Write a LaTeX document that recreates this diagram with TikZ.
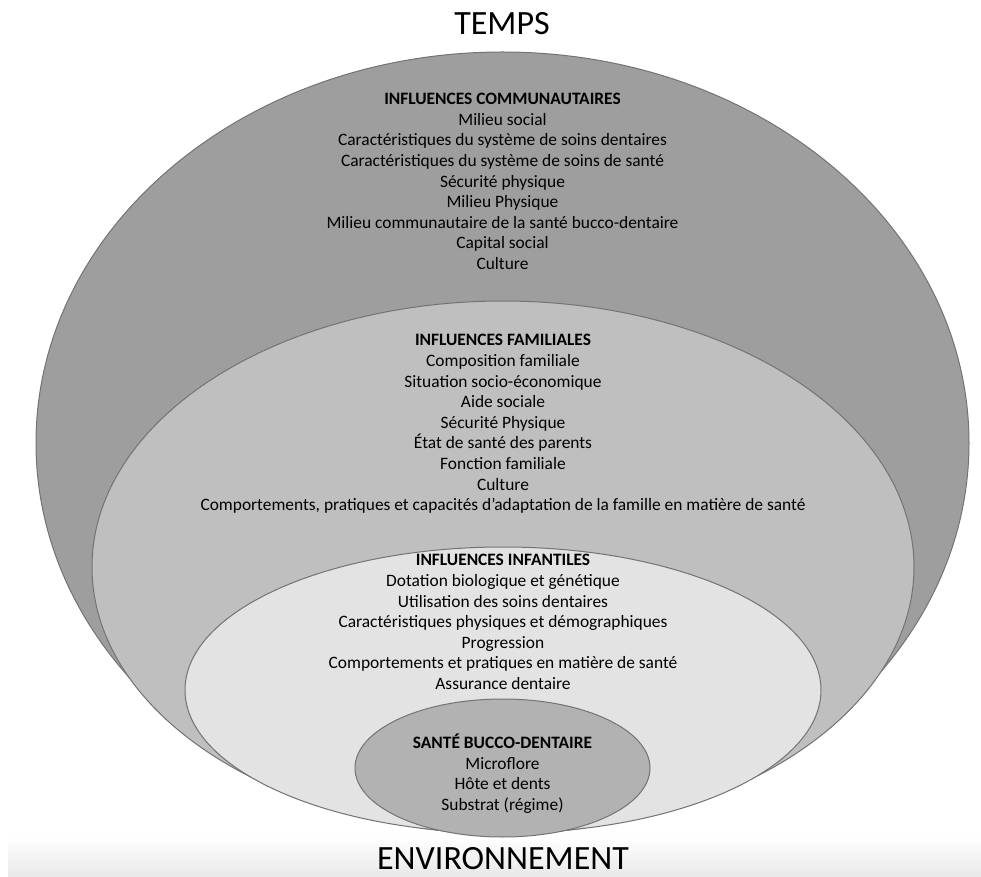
\documentclass[tikz,border=0pt]{standalone}
\usepackage{fontspec}
\setmainfont{Carlito}
\usetikzlibrary{shapes,positioning}

\begin{document}
\begin{tikzpicture}[x=0.5pt, y=-0.5pt,
    couche/.style={ellipse, draw=black!55, line width=0.5pt, inner sep=0pt},
    liste/.style={align=center, font=\fontsize{8.7}{10.3}\selectfont, inner sep=0pt},
    titre/.style={font=\fontsize{17}{20}\selectfont, inner sep=0pt}]
  \useasboundingbox (0,0) rectangle (981,877);
  \shade[top color=white, bottom color=black!9] (8,837) rectangle (981,877);

  % les couches, de l'exterieur vers l'interieur
  \node[couche, fill=black!38, minimum width=466.5pt, minimum height=391pt] (comm) at (502.5,443) {};
  \node[couche, fill=black!25, minimum width=411pt, minimum height=266pt] (fam) at (503,567) {};
  \node[couche, fill=black!11, minimum width=318pt, minimum height=143pt] (inf) at (503,690) {};
  \node[couche, fill=black!30, minimum width=147.5pt, minimum height=69pt] (sante) at (502.5,768) {};

  \node[titre] (temps) at (502,24) {TEMPS};
  \node[titre] (env) at (503,859) {ENVIRONNEMENT};

  \node[liste] (commtxt) at (502.5,181.5) {\textbf{INFLUENCES COMMUNAUTAIRES}\\
    Milieu social\\
    Caractéristiques du système de soins dentaires\\
    Caractéristiques du système de soins de santé\\
    Sécurité physique\\
    Milieu Physique\\
    Milieu communautaire de la santé bucco-dentaire\\
    Capital social\\
    Culture};
  \node[liste] (famtxt) at (503,424) {\textbf{INFLUENCES FAMILIALES}\\
    Composition familiale\\
    Situation socio-économique\\
    Aide sociale\\
    Sécurité Physique\\
    État de santé des parents\\
    Fonction familiale\\
    Culture\\
    Comportements, pratiques et capacités d’adaptation de la famille en matière de santé};
  \node[liste] (inftxt) at (503,622) {\textbf{INFLUENCES INFANTILES}\\
    Dotation biologique et génétique\\
    Utilisation des soins dentaires\\
    Caractéristiques physiques et démographiques\\
    Progression\\
    Comportements et pratiques en matière de santé\\
    Assurance dentaire};
  \node[liste] (santetxt) at (502.5,773.5) {\textbf{SANTÉ BUCCO-DENTAIRE}\\
    Microflore\\
    Hôte et dents\\
    Substrat (régime)};
\end{tikzpicture}
\end{document}
